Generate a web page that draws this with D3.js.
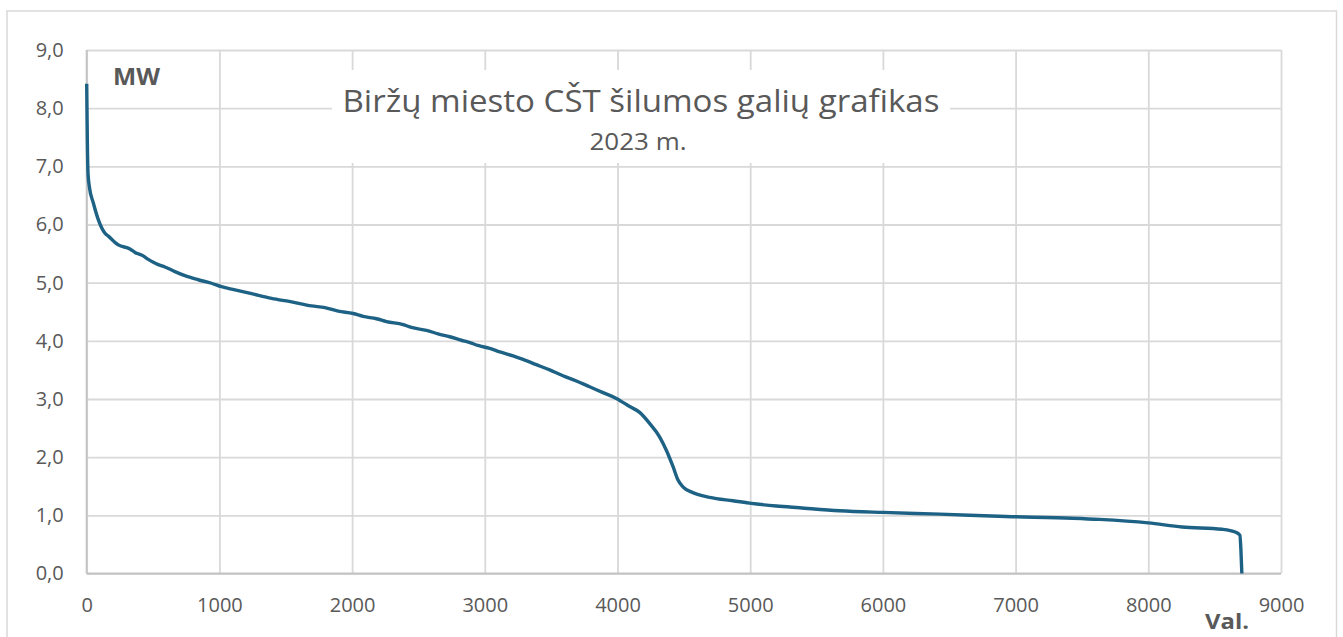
<!DOCTYPE html>
<html>
<head>
<meta charset="utf-8">
<script src="https://cdn.jsdelivr.net/npm/d3@7"></script>
<style>
body{margin:0;background:#fff;}
text{font-family:"Open Sans",sans-serif;fill:#595959;}
</style>
</head>
<body>
<div id="chart"></div>
<script>
// load duration curve
var hours=[0,5,10,20,50,88,138,163,238,326,364,426,464,502,539,589,665,740,841,941,
    1016,1092,1243,1393,1544,1694,1795,1895,2008,2083,2184,2259,2384,2447,2561,2648,2736,2824,2887,2949,
    3037,3113,3213,3288,3389,3489,3589,3690,3790,3891,3991,4092,4167,4242,4317,4368,4418,4455,4493,4568,
    4694,4870,4995,5197,5372,5673,5999,6427,6929,7431,7631,8000,8255,8556,8659,8690,8698,8705];
var mw=[8.42,7.4,6.88,6.65,6.37,6.08,5.85,5.80,5.65,5.58,5.52,5.46,5.40,5.35,5.31,5.27,5.19,5.12,5.05,4.99,
    4.93,4.89,4.81,4.73,4.67,4.60,4.57,4.51,4.47,4.42,4.38,4.33,4.28,4.23,4.18,4.12,4.07,4.01,3.97,3.92,
    3.87,3.81,3.74,3.68,3.59,3.50,3.40,3.31,3.21,3.11,3.01,2.87,2.77,2.58,2.35,2.12,1.84,1.61,1.49,1.39,
    1.31,1.25,1.21,1.16,1.13,1.08,1.05,1.02,0.98,0.95,0.93,0.87,0.80,0.76,0.71,0.66,0.40,0];
var xTicks=[0,1000,2000,3000,4000,5000,6000,7000,8000,9000];
var yTicks=[0,1,2,3,4,5,6,7,8,9];
var title='Biržų miesto CŠT šilumos galių grafikas';
var subtitle='2023 m.';

var W=1343,H=637;
var margin={left:86.7,right:62,top:50,bottom:63.5};
var width=W-margin.left-margin.right;
var height=H-margin.top-margin.bottom;

var svg=d3.select('#chart')
    .append('svg')
    .attr('width',W)
    .attr('height',H);

svg.append('rect')
    .attr('x',7).attr('y',11)
    .attr('width',1329.5).attr('height',700)
    .attr('fill','#fff')
    .attr('stroke','#d9d9d9')
    .attr('stroke-width',1.5);

var g=svg.append('g')
    .attr('transform','translate('+margin.left+','+margin.top+')');

var x=d3.scaleLinear().domain([0,9000]).range([0,width]);
var y=d3.scaleLinear().domain([0,9]).range([height,0]);

// grid
var gx=g.append('g')
    .attr('transform','translate(0,'+height+')')
    .call(d3.axisBottom(x).tickValues(xTicks).tickSize(-height).tickFormat(d3.format('d')).tickPadding(22));
var gy=g.append('g')
    .call(d3.axisLeft(y).tickValues(yTicks).tickSize(-width)
        .tickFormat(function(d){return d3.format('.1f')(d).replace('.',',');}).tickPadding(23));
[gx,gy].forEach(function(a){
    a.select('.domain').remove();
    a.selectAll('.tick line').attr('stroke','#d9d9d9').attr('stroke-width',1.8);
    a.selectAll('.tick text').attr('font-size',20).attr('fill','#595959')
        .style('font-family','"Open Sans",sans-serif');
});
gx.selectAll('.tick text').attr('dy','0.8em');

// axis lines
g.append('line').attr('x1',0).attr('x2',0).attr('y1',0).attr('y2',height)
    .attr('stroke','#c4c4c4').attr('stroke-width',2);
g.append('line').attr('x1',0).attr('x2',width).attr('y1',height).attr('y2',height)
    .attr('stroke','#c4c4c4').attr('stroke-width',2);

// title box
svg.append('rect')
    .attr('x',332).attr('y',70)
    .attr('width',618).attr('height',93)
    .attr('fill','#fff');
svg.append('text')
    .attr('x',641).attr('y',112)
    .attr('text-anchor','middle')
    .attr('font-size',31)
    .attr('textLength',597)
    .attr('lengthAdjust','spacingAndGlyphs')
    .text(title);
svg.append('text')
    .attr('x',638).attr('y',150)
    .attr('text-anchor','middle')
    .attr('font-size',23)
    .attr('textLength',97)
    .attr('lengthAdjust','spacingAndGlyphs')
    .text(subtitle);

svg.append('text')
    .attr('x',113).attr('y',85)
    .attr('font-size',23)
    .attr('font-weight','bold')
    .attr('textLength',47)
    .attr('lengthAdjust','spacingAndGlyphs')
    .text('MW');
svg.append('text')
    .attr('x',1205).attr('y',629)
    .attr('font-size',21)
    .attr('font-weight','bold')
    .attr('textLength',44)
    .attr('lengthAdjust','spacingAndGlyphs')
    .text('Val.');

// curve
var pts=hours.map(function(h,i){return [h,mw[i]];});
var line=d3.line()
    .x(function(d){return x(d[0]);})
    .y(function(d){return y(d[1]);})
    .curve(d3.curveMonotoneX);
g.append('path')
    .datum(pts)
    .attr('d',line)
    .attr('fill','none')
    .attr('stroke','#1d6185')
    .attr('stroke-width',3.4)
    .attr('stroke-linejoin','round');
</script>
</body>
</html>
